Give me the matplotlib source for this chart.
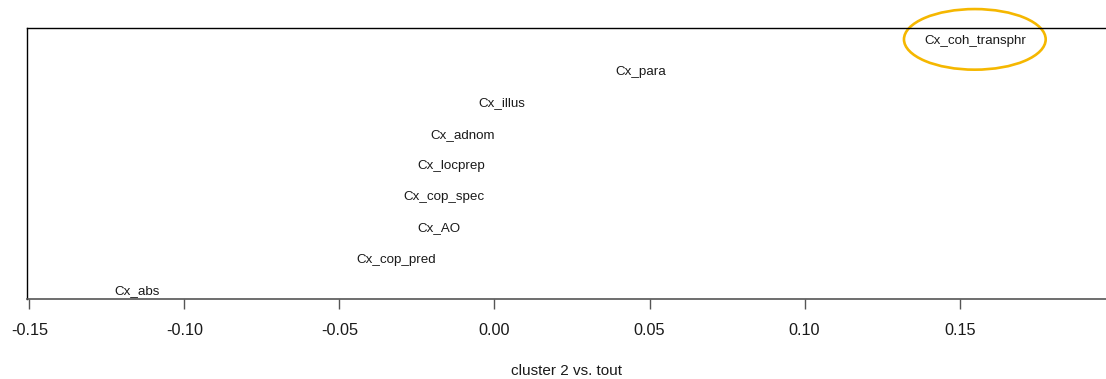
import matplotlib
matplotlib.use("Agg")
import matplotlib.pyplot as plt
from matplotlib.patches import Ellipse

plt.rcParams['font.family'] = ['Liberation Sans', 'DejaVu Sans']

# constructions et leur score (cluster 2 vs. tout), de bas en haut
etiquettes = ['Cx_abs', 'Cx_cop_pred', 'Cx_AO', 'Cx_cop_spec', 'Cx_locprep',
              'Cx_adnom', 'Cx_illus', 'Cx_para', 'Cx_coh_transphr']
scores = [-0.1151, -0.0318, -0.0179, -0.0164, -0.0141,
          -0.0103, 0.0025, 0.0471, 0.1549]
rangs = list(range(1, len(etiquettes) + 1))

graduations = [-0.15, -0.10, -0.05, 0.00, 0.05, 0.10, 0.15]
graduations_txt = ['-0.15', '-0.10', '-0.05', '0.00', '0.05', '0.10', '0.15']

fig = plt.figure(figsize=(11.06, 3.79), dpi=100)
ax = fig.add_axes([0.024, 0.2098, 0.976, 0.716])

for x, y, lab in zip(scores, rangs, etiquettes):
    ax.text(x, y, lab, ha='center', va='center_baseline', fontsize=9.6, color='#1a1a1a')

# mise en évidence de la construction la plus marquée
ell = Ellipse((scores[-1], rangs[-1]), 0.0457, 1.94, fill=False,
              edgecolor='#F5B700', linewidth=1.9, clip_on=False)
ax.add_patch(ell)

ax.set_xlim(-0.1509, 0.1972)
ax.set_ylim(0.674, 9.36)
ax.set_yticks([])
ax.set_xticks(graduations)
ax.set_xticklabels(graduations_txt)
ax.tick_params(axis='x', length=7, width=1, color='#555555', pad=10,
               labelsize=11.7, labelcolor='#1a1a1a')
ax.spines['right'].set_visible(False)
for s in ['top', 'left']:
    ax.spines[s].set_color('black')
    ax.spines[s].set_linewidth(1.0)
ax.spines['bottom'].set_color('#555555')
ax.spines['bottom'].set_linewidth(1.2)

ax.set_xlabel('cluster 2 vs. tout', fontsize=11, color='#1a1a1a', labelpad=18.5)

fig.savefig('out.png', dpi=100)
